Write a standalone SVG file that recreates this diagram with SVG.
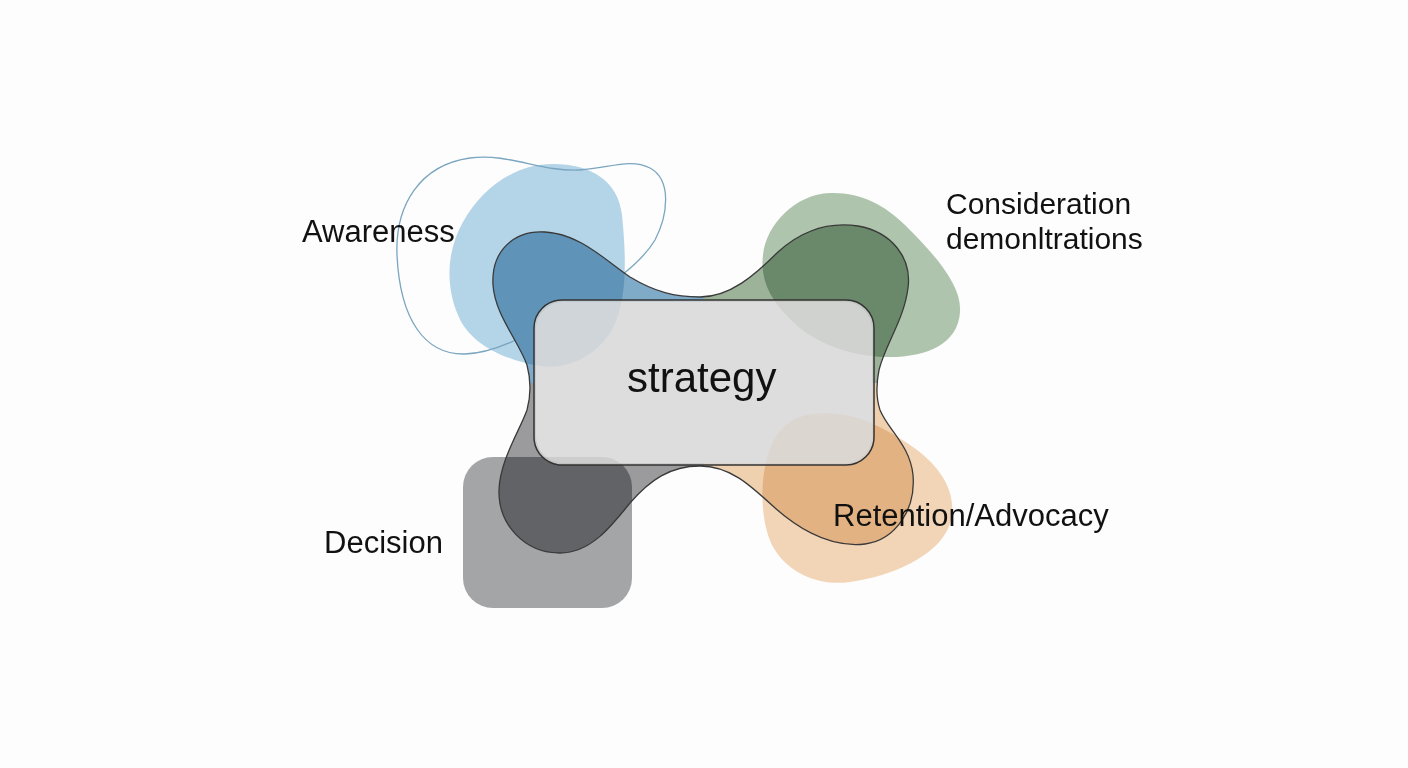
<svg xmlns="http://www.w3.org/2000/svg" width="1408" height="768" viewBox="0 0 1408 768">
<style>
.lbl{font-family:"Liberation Sans",Arial,sans-serif;font-size:31px;fill:#111}
</style>
<defs>
<path id="xshape" d="M700,297 C730,297 755,275 778,252 C802,230 830,222 858,226 C892,232 912,258 908,288 C904,320 885,345 879,370 C876,385 876,398 880,410 C888,430 910,445 913,475 C916,510 895,540 865,544 C830,548 800,530 775,508 C750,485 730,466 700,466 C670,466 650,480 630,503 C610,528 590,553 560,553 C525,553 498,525 499,490 C500,460 520,430 527,410 C531,395 531,380 527,365 C518,340 495,315 493,285 C491,250 515,230 545,232 C580,234 605,260 630,277 C655,292 675,297 700,297 Z"/>
<path id="pBlue" d="M553,164 C590,164 618,180 622,215 C626,255 628,300 612,330 C595,358 565,370 540,366 C505,360 470,345 458,315 C445,285 447,250 463,222 C482,188 515,164 553,164 Z"/>
<path id="pGreen" d="M830,193 C860,192 885,205 905,225 C935,255 962,285 960,312 C958,345 925,358 885,357 C850,356 815,343 793,322 C770,300 760,280 763,255 C766,225 795,194 830,193 Z"/>
<rect id="pGray" x="463" y="457" width="169" height="151" rx="30"/>
<path id="pOrange" d="M815,414 C850,410 880,425 910,445 C940,465 955,490 952,515 C948,550 900,575 850,582 C815,587 785,570 772,545 C760,520 760,480 768,455 C776,430 790,416 815,414 Z"/>
<clipPath id="cBlue"><use href="#pBlue"/></clipPath>
<clipPath id="cGreen"><use href="#pGreen"/></clipPath>
<clipPath id="cGray"><use href="#pGray"/></clipPath>
<clipPath id="cOrange"><use href="#pOrange"/></clipPath>
<clipPath id="qTL"><rect x="0" y="0" width="704" height="383"/></clipPath>
<clipPath id="qTR"><rect x="704" y="0" width="704" height="383"/></clipPath>
<clipPath id="qBL"><rect x="0" y="383" width="704" height="385"/></clipPath>
<clipPath id="qBR"><rect x="704" y="383" width="704" height="385"/></clipPath>
<mask id="noRect" maskUnits="userSpaceOnUse" x="0" y="0" width="1408" height="768">
<rect width="1408" height="768" fill="#fff"/>
<rect x="536" y="302" width="336" height="161" rx="27" fill="#000"/>
</mask>
<mask id="noX" maskUnits="userSpaceOnUse" x="0" y="0" width="1408" height="768">
<rect width="1408" height="768" fill="#fff"/>
<use href="#xshape" fill="#000"/>
</mask>
</defs>
<rect width="1408" height="768" fill="#fdfdfd"/>
<g id="blobs">
<use id="blob-blue" href="#pBlue" fill="#b4d4e8"/>
<use id="blob-green" href="#pGreen" fill="#afc4ad"/>
<use id="blob-gray" href="#pGray" fill="#a4a5a7"/>
<use id="blob-orange" href="#pOrange" fill="#f2d5b7"/>
<path id="blob-outline" mask="url(#noX)" d="M397,255 C395,205 420,165 470,158 C510,153 540,172 580,170 C610,168 630,158 650,168 C672,180 668,215 655,240 C640,265 610,285 570,310 C535,330 500,353 465,354 C425,355 400,320 397,255 Z" fill="none" stroke="#7aa5bf" stroke-width="1.3"/>
</g>
<g id="lobes">
<g mask="url(#noRect)">
<g id="lobe-awareness" clip-path="url(#qTL)"><use href="#xshape" fill="#80abc8"/><g clip-path="url(#cBlue)"><use href="#xshape" fill="#5f93b8"/></g></g>
<g id="lobe-consideration" clip-path="url(#qTR)"><use href="#xshape" fill="#9cb39a"/><g clip-path="url(#cGreen)"><use href="#xshape" fill="#6a886a"/></g></g>
<g id="lobe-decision" clip-path="url(#qBL)"><use href="#xshape" fill="#9b9b9d"/><g clip-path="url(#cGray)"><use href="#xshape" fill="#626367"/></g></g>
<g id="lobe-retention" clip-path="url(#qBR)"><use href="#xshape" fill="#f0d1af"/><g clip-path="url(#cOrange)"><use href="#xshape" fill="#e3b283"/></g></g>
</g>
<use href="#xshape" fill="none" stroke="#3a3a3a" stroke-width="1.3"/>
</g>
<g id="strategy">
<rect x="534" y="300" width="340" height="165" rx="28" fill="#d6d6d6" fill-opacity="0.82" stroke="#333" stroke-width="1.5"/>
<text x="627" y="392" style="font-family:'Liberation Sans',Arial,sans-serif;font-size:42px;fill:#111">strategy</text>
</g>
<g id="awareness"><text class="lbl" x="302" y="242">Awareness</text></g>
<g id="consideration"><text class="lbl" x="946" y="214" style="font-size:30px">Consideration</text><text class="lbl" x="946" y="249" style="font-size:30px">demonltrations</text></g>
<g id="decision"><text class="lbl" x="324" y="553">Decision</text></g>
<g id="retention"><text class="lbl" x="833" y="526">Retention/Advocacy</text></g>
</svg>
